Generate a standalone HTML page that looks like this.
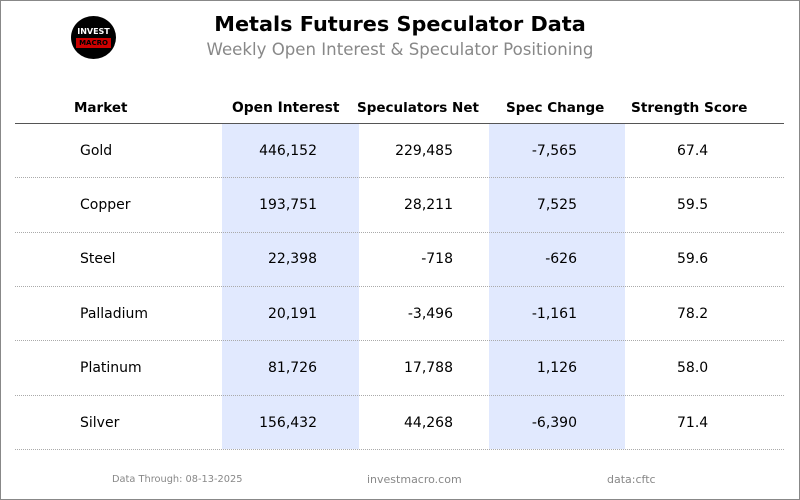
<!DOCTYPE html>
<html><head><style>
body{margin:0;width:800px;height:500px;overflow:hidden;background:#fff;font-family:"DejaVu Sans",sans-serif;}
.frame{position:absolute;left:0;top:0;width:798px;height:498px;border:1px solid #888;}
.t{position:absolute;white-space:nowrap;}
.shade{position:absolute;background:#e1e9fe;top:124px;height:325px;}
.line{position:absolute;left:15px;width:769px;border-top:1px dotted #aaa;}
.r{text-align:right;}
</style></head><body>
<div class="frame"></div>
<div style="position:absolute;left:71px;top:16px;width:45px;height:43px;border-radius:50%;background:#000;"></div>
<div class="t" style="left:71px;top:27px;width:45px;text-align:center;color:#fff;font-size:8px;font-weight:bold;">INVEST</div>
<div class="t" style="left:76px;top:38px;width:35px;height:10px;background:#c00;color:#000;font-size:7px;font-weight:bold;text-align:center;line-height:10px;">MACRO</div>
<div class="t" style="left:0;width:800px;text-align:center;top:12px;font-size:20.8px;font-weight:bold;">Metals Futures Speculator Data</div>
<div class="t" style="left:0;width:800px;text-align:center;top:40px;font-size:16.6px;color:#888;">Weekly Open Interest &amp; Speculator Positioning</div>
<div class="shade" style="left:222px;width:137px;"></div>
<div class="shade" style="left:489px;width:136px;"></div>
<div class="t" style="left:74px;top:100px;font-size:13.5px;font-weight:bold;">Market</div>
<div class="t" style="left:232px;top:100px;font-size:13.8px;font-weight:bold;">Open Interest</div>
<div class="t" style="left:357px;top:100px;font-size:13.5px;font-weight:bold;">Speculators Net</div>
<div class="t" style="left:506px;top:100px;font-size:13.5px;font-weight:bold;">Spec Change</div>
<div class="t" style="left:631px;top:100px;font-size:13.7px;font-weight:bold;">Strength Score</div>
<div style="position:absolute;left:15px;width:769px;top:123px;border-top:1px solid #555;"></div>
<div class="line" style="top:177px"></div><div class="line" style="top:232px"></div><div class="line" style="top:286px"></div><div class="line" style="top:340px"></div><div class="line" style="top:395px"></div><div class="line" style="top:449px"></div>
<div id="rows"></div>
<script>
var d=[["Gold","446,152","229,485","-7,565","67.4"],["Copper","193,751","28,211","7,525","59.5"],["Steel","22,398","-718","-626","59.6"],["Palladium","20,191","-3,496","-1,161","78.2"],["Platinum","81,726","17,788","1,126","58.0"],["Silver","156,432","44,268","-6,390","71.4"]];
var h="";d.forEach(function(r,i){var y=142.5+i*54.4;
h+='<div class="t" style="left:80px;top:'+y+'px;font-size:14px">'+r[0]+'</div>';
h+='<div class="t r" style="left:217px;width:100px;top:'+y+'px;font-size:14px">'+r[1]+'</div>';
h+='<div class="t r" style="left:353px;width:100px;top:'+y+'px;font-size:14px">'+r[2]+'</div>';
h+='<div class="t r" style="left:477px;width:100px;top:'+y+'px;font-size:14px">'+r[3]+'</div>';
h+='<div class="t" style="left:677px;top:'+y+'px;font-size:14px">'+r[4]+'</div>';});
document.getElementById("rows").innerHTML=h;
</script>
<div class="t" style="left:112px;top:474px;font-size:9.8px;color:#888;">Data Through: 08-13-2025</div>
<div class="t" style="left:367px;top:473px;font-size:11px;color:#888;">investmacro.com</div>
<div class="t" style="left:607px;top:473px;font-size:11px;color:#888;">data:cftc</div>
</body></html>
